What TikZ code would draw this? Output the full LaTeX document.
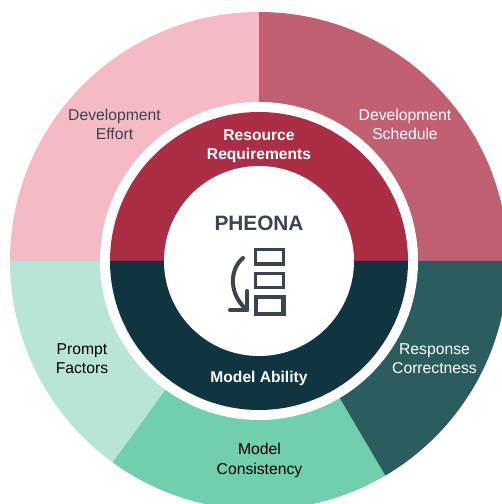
\documentclass[tikz,border=0pt]{standalone}
\usepackage{fontspec}
\setmainfont{Liberation Sans}
\definecolor{cPink}{HTML}{F4BBC7}
\definecolor{cRose}{HTML}{C06072}
\definecolor{cCrimson}{HTML}{AA2E46}
\definecolor{cNavy}{HTML}{103440}
\definecolor{cTeal}{HTML}{2B5C5E}
\definecolor{cMint}{HTML}{71CFAE}
\definecolor{cLight}{HTML}{B8E5D6}
\definecolor{cInk}{HTML}{3B4550}
\tikzset{
  x=1pt,y=1pt,
  label text/.style={font=\fontsize{15.7}{19.3}\selectfont,align=center,inner sep=0pt},
  bold text/.style={font=\fontsize{15.6}{19}\selectfont\bfseries,align=center,text=white,inner sep=0pt},
  icon box/.style={draw=cInk,line width=3.5pt,fill=white},
  icon arrow/.style={draw=cInk,line width=4pt,line cap=round,line join=round},
}
\newcommand{\sector}[3]{\fill[#1] (259,243) -- ++(#2:249) arc[start angle=#2,end angle=#3,radius=249] -- cycle;}
\newcommand{\halfband}[3]{\fill[#1] (259,243) -- ++(#2:149) arc[start angle=#2,end angle=#3,radius=149] -- cycle;}
\begin{document}
\begin{tikzpicture}
\useasboundingbox (0,0) rectangle (502,504);
\begin{scope}
\clip (0,0) rectangle (502,504);
\sector{cPink}{90}{180}
\sector{cRose}{0}{90}
\sector{cLight}{180}{234}
\sector{cMint}{234}{300.5}
\sector{cTeal}{300.5}{360}
\fill[white] (259,243) circle[radius=159];
\halfband{cCrimson}{0}{180}
\halfband{cNavy}{180}{360}
\fill[white] (259,243) circle[radius=95];
\end{scope}
\node[label text,text=cInk] (effort) at (114.5,379.5) {Development\\Effort};
\node[label text,text=white] (schedule) at (405,379.5) {Development\\Schedule};
\node[label text,text=black] (prompt) at (82,145) {Prompt\\Factors};
\node[label text,text=white] (response) at (434.5,145) {Response\\Correctness};
\node[label text,text=black] (consistency) at (259.5,43.5) {Model\\Consistency};
\node[bold text] (resource) at (259,357.5) {Resource\\Requirements};
\node[bold text] (ability) at (259,126) {Model Ability};
\node[font=\fontsize{20.8}{24}\selectfont\bfseries,text=cInk,inner sep=0pt] (pheona) at (259,281) {PHEONA};
\draw[icon box] (255.5,240) rectangle (283.5,254.5);
\draw[icon box] (255.5,216.5) rectangle (283.5,230.5);
\draw[icon box,line width=4.5pt] (256,190) rectangle (283.5,207);
\draw[icon arrow] (243,246) .. controls (228,233) and (230,208) .. (247,194);
\draw[icon arrow] (230,194) -- (247,194) -- (247,213);
\end{tikzpicture}
\end{document}
